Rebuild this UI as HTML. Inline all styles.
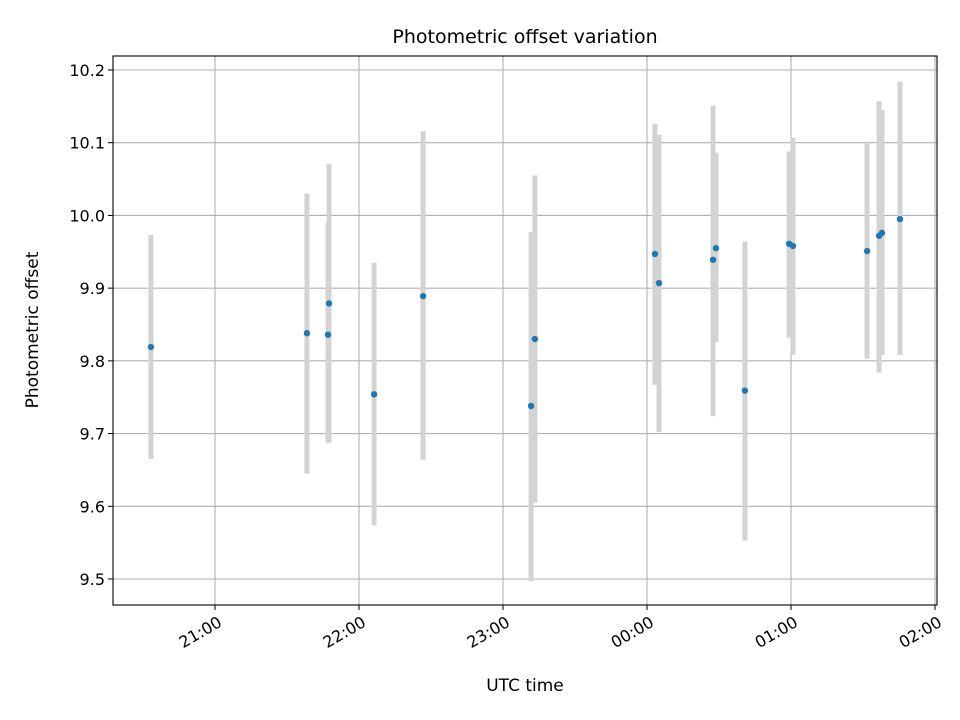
<!DOCTYPE html>
<html><head><meta charset="utf-8"><style>
body{margin:0;background:#fff}
svg{display:block;font-family:"DejaVu Sans","Liberation Sans",sans-serif}
</style></head><body>
<svg id="chart" width="960" height="720" viewBox="0 0 960 720"></svg>
<script>
const minutesAfter20 = [33.3,98.3,107.1,107.5,126.3,146.7,191.7,193.3,243.3,245,267.5,268.75,280.8,299.2,300.8,331.7,336.7,337.9,345.4];
const offsets = [9.819,9.838,9.836,9.879,9.754,9.889,9.738,9.830,9.947,9.907,9.939,9.955,9.759,9.961,9.958,9.951,9.972,9.976,9.995];
const errLow = [9.665,9.645,9.687,9.688,9.574,9.664,9.497,9.605,9.767,9.702,9.724,9.826,9.553,9.832,9.808,9.803,9.784,9.808,9.808];
const errHigh = [9.973,10.030,9.990,10.071,9.935,10.116,9.977,10.055,10.126,10.111,10.151,10.086,9.964,10.088,10.107,10.100,10.157,10.145,10.184];
const yTicks = [9.5,9.6,9.7,9.8,9.9,10.0,10.1,10.2];
const yTickLabels = ["9.5","9.6","9.7","9.8","9.9","10.0","10.1","10.2"];
const xTicks = [60,120,180,240,300,360];
const xTickLabels = ["21:00","22:00","23:00","00:00","01:00","02:00"];

const L=113,R=937,T=56,B=605;
const xs = m => 71 + m*2.4;
const ys = v => 579 - (v-9.5)*(509/0.7);
const svg=document.getElementById('chart');
const NS='http://www.w3.org/2000/svg';
function mk(tag,attrs,parent){const e=document.createElementNS(NS,tag);for(const k in attrs)e.setAttribute(k,attrs[k]);(parent||svg).appendChild(e);return e;}

yTicks.forEach((v,i)=>{
  const g=mk('line',{x1:L,x2:R,y1:ys(v),y2:ys(v),stroke:'#b0b0b0','stroke-width':1.1});
  
  
  mk('line',{x1:L-5,x2:L,y1:ys(v),y2:ys(v),stroke:'#000','stroke-width':1});
  const t=mk('text',{x:L-8,y:ys(v)+6,'text-anchor':'end','font-size':16,fill:'#000'});
  t.textContent=yTickLabels[i];
  
  
});
xTicks.forEach((m,i)=>{
  const x=xs(m);
  const g=mk('line',{x1:x,x2:x,y1:T,y2:B,stroke:'#b0b0b0','stroke-width':1.1});
  
  
  mk('line',{x1:x,x2:x,y1:B,y2:B+5,stroke:'#000','stroke-width':1});
  const ax=x+2, ay=B+10;
  const t=mk('text',{x:ax,y:ay,'text-anchor':'end','dominant-baseline':'hanging','font-size':16,fill:'#000',transform:`rotate(-30 ${ax} ${ay})`});
  t.textContent=xTickLabels[i];
  
  
});
minutesAfter20.forEach((m,i)=>{
  const b=mk('line',{x1:xs(m),x2:xs(m),y1:ys(errLow[i]),y2:ys(errHigh[i]),stroke:'#d3d3d3','stroke-width':5});
  
  
});
minutesAfter20.forEach((m,i)=>{
  const p=mk('circle',{cx:xs(m),cy:ys(offsets[i]),r:3.2,fill:'#1f77b4'});
  
  
});
const frame=mk('rect',{x:L,y:T,width:R-L,height:B-T,fill:'none',stroke:'#000','stroke-width':1.1});


const title=mk('text',{x:(L+R)/2,y:43,'text-anchor':'middle','font-size':19,fill:'#000'});
title.textContent='Photometric offset variation';


const xl=mk('text',{x:(L+R)/2,y:691,'text-anchor':'middle','font-size':17,fill:'#000'});
xl.textContent='UTC time';


const yl=mk('text',{x:38,y:330,'text-anchor':'middle','font-size':17,fill:'#000',transform:'rotate(-90 38 330)'});
yl.textContent='Photometric offset';


</script>
</body></html>
